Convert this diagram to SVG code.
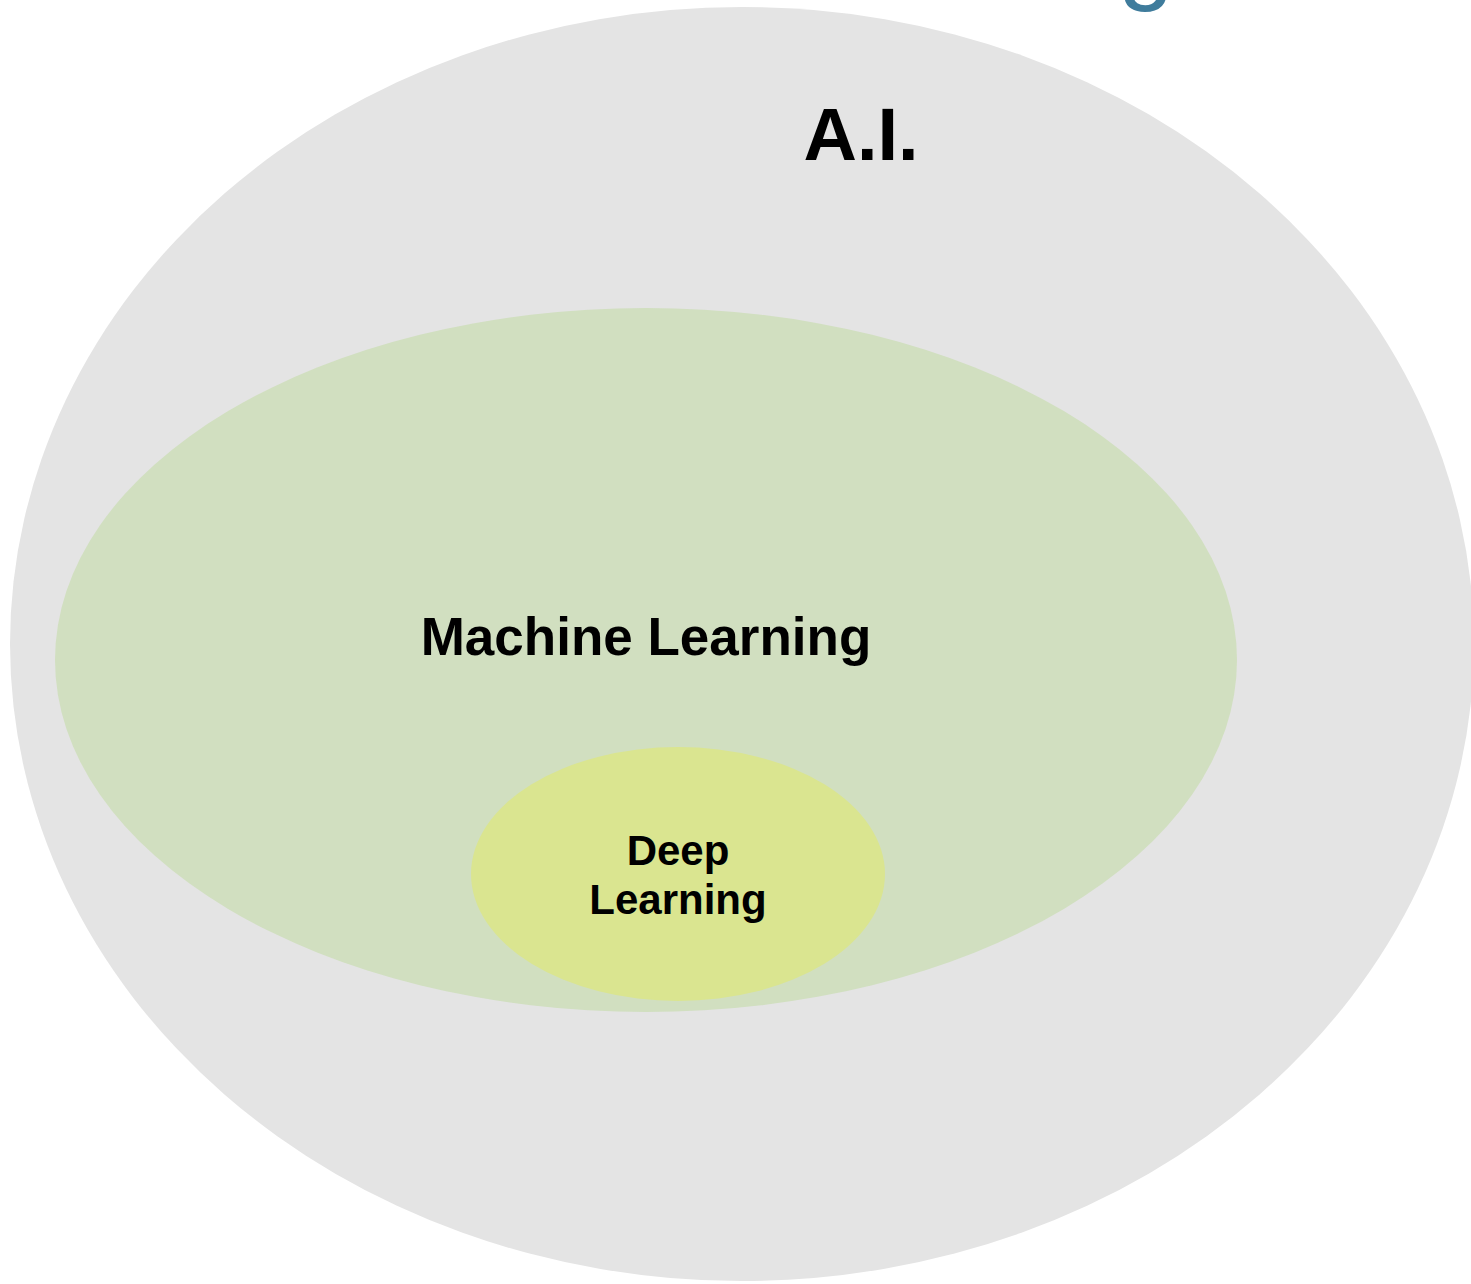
<svg xmlns="http://www.w3.org/2000/svg" width="1471" height="1284" viewBox="0 0 1471 1284">
<style>
.lbl{font-family:"Liberation Sans",Arial,sans-serif;font-weight:bold;fill:#000;text-anchor:middle}
</style>
<rect width="1471" height="1284" fill="#fff"/>
<text x="1146" y="-9" font-family="Liberation Sans, Arial, sans-serif" font-size="100" fill="#3F7C9C" text-anchor="middle">g</text>
<g id="ai">
<ellipse cx="742" cy="644" rx="732" ry="637" fill="#E4E4E4"/>
<text class="lbl" x="861" y="160" font-size="74">A.I.</text>
</g>
<g id="ml">
<ellipse cx="646" cy="660" rx="591" ry="352" fill="#D1DFC0"/>
<text class="lbl" x="646" y="655" font-size="53">Machine Learning</text>
</g>
<g id="dl">
<ellipse cx="678" cy="874" rx="207" ry="127" fill="#DAE590"/>
<text class="lbl" x="678" y="865" font-size="42">Deep</text>
<text class="lbl" x="678" y="914" font-size="42">Learning</text>
</g>
<g id="connectors"/>
</svg>
